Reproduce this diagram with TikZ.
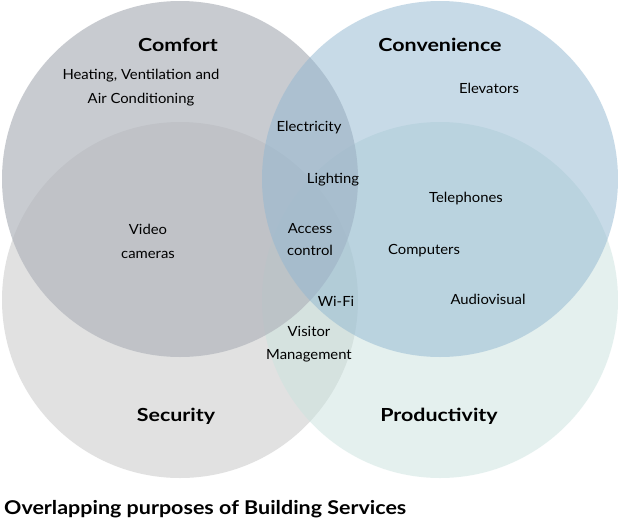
\documentclass[tikz,border=0pt]{standalone}
\usepackage{fontspec}
\setmainfont{Lato}[FakeStretch=1.06]
\newfontfamily\headfont{Lato}[FakeStretch=1.19]
\newfontfamily\capfont{Lato}[FakeStretch=1.13]
\definecolor{comfortC}{HTML}{B2B6BD}
\definecolor{convC}{HTML}{91B7D1}
\definecolor{secC}{HTML}{E1E1E1}
\definecolor{prodC}{HTML}{CBE3DF}
\begin{document}
\begin{tikzpicture}[x=1pt,y=-1pt,
  circ/.style={circle,minimum size=356pt,inner sep=0pt,draw=none},
  head/.style={font=\headfont\fontsize{18}{20}\selectfont\bfseries,text=black},
  item/.style={font=\fontsize{14}{24}\selectfont,align=center,text=black,inner sep=0pt}]
\useasboundingbox (0,0) rectangle (618,530);
\fill[white] (0,0) rectangle (618,530);
\node[circ,fill=secC] (security) at (180,300) {};
\node[circ,fill=prodC,fill opacity=0.5] (productivity) at (440,300) {};
\node[circ,fill=comfortC,fill opacity=0.7] (comfort) at (180,179) {};
\node[circ,fill=convC,fill opacity=0.5] (convenience) at (440,179) {};
\node[head] (tcomfort) at (178,45) {Comfort};
\node[head] (tconv) at (440,45) {Convenience};
\node[head] (tsec) at (176,416) {Security};
\node[head] (tprod) at (439,416) {Productivity};
\node[item] (hvac) at (141,88) {Heating, Ventilation and\\Air Conditioning};
\node[item] (elev) at (489,88) {Elevators};
\node[item] (elec) at (309,128) {Electricity};
\node[item] (light) at (333,180) {Lighting};
\node[item] (tel) at (466,199) {Telephones};
\node[item] (video) at (148,241) {Video\\cameras};
\node[item,font=\fontsize{14}{22}\selectfont] (access) at (310,240) {Access\\control};
\node[item] (comp) at (424,251) {Computers};
\node[item] (wifi) at (336,301) {Wi-Fi};
\node[item] (audio) at (488,299) {Audiovisual};
\node[item,font=\fontsize{14}{23}\selectfont] (visitor) at (309,344) {Visitor\\Management};
\node[font=\capfont\fontsize{19}{21}\selectfont\bfseries,anchor=west,inner sep=0pt] (caption) at (4,509) {Overlapping purposes of Building Services};
\end{tikzpicture}
\end{document}
